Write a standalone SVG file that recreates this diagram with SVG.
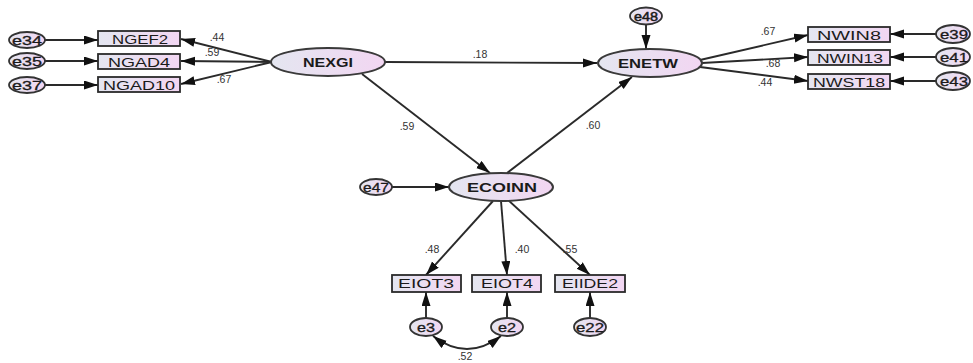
<svg xmlns="http://www.w3.org/2000/svg" width="973" height="363" viewBox="0 0 973 363">
<defs>
<linearGradient id="g" x1="0" y1="0" x2="1" y2="0">
<stop offset="0" stop-color="#e4e6f0"/>
<stop offset="1" stop-color="#f2d6f2"/>
</linearGradient>
<marker id="ah" markerUnits="userSpaceOnUse" markerWidth="16" markerHeight="12" refX="14" refY="4.5" orient="auto-start-reverse">
<path d="M0,0 L14,4.5 L0,9 z" fill="#111"/>
</marker>
</defs>
<style>
.box{fill:url(#g);stroke:#2a2a2a;stroke-width:1.8}
.lat{fill:url(#g);stroke:#3a3a3a;stroke-width:2}
.err{fill:url(#g);stroke:#333;stroke-width:1.8}
.t{font-family:"Liberation Sans",Arial,sans-serif;font-size:12.5px;fill:#1a1a1a;text-anchor:middle}
.tb{font-family:"Liberation Sans",Arial,sans-serif;font-size:12px;font-weight:bold;fill:#1a1a1a;text-anchor:middle}
.te{font-family:"Liberation Sans",Arial,sans-serif;font-size:12.5px;fill:#1a1a1a;text-anchor:middle;stroke:#1a1a1a;stroke-width:0.3}
.lb{font-family:"Liberation Sans",Arial,sans-serif;font-size:10.5px;fill:#333;text-anchor:middle}
.c{stroke:#2a2a2a;stroke-width:1.9;fill:none;marker-end:url(#ah)}
</style>
<rect width="973" height="363" fill="#fff"/>
<g id="connectors">
<line class="c" x1="272" y1="62" x2="181" y2="39"/>
<line class="c" x1="272" y1="62" x2="181" y2="61"/>
<line class="c" x1="272" y1="62" x2="181" y2="84"/>
<line class="c" x1="45" y1="40" x2="98" y2="40"/>
<line class="c" x1="45" y1="61" x2="98" y2="61"/>
<line class="c" x1="45" y1="85" x2="98" y2="85"/>
<line class="c" x1="385" y1="62" x2="597" y2="63"/>
<line class="c" x1="362" y1="74" x2="490" y2="173"/>
<line class="c" x1="507" y1="173" x2="632" y2="77"/>
<line class="c" x1="646" y1="25" x2="646" y2="49"/>
<line class="c" x1="700" y1="60" x2="808" y2="35"/>
<line class="c" x1="702" y1="63" x2="808" y2="57"/>
<line class="c" x1="700" y1="67" x2="808" y2="81"/>
<line class="c" x1="936" y1="34" x2="890" y2="34"/>
<line class="c" x1="936" y1="57" x2="890" y2="57"/>
<line class="c" x1="936" y1="81" x2="890" y2="81"/>
<line class="c" x1="392" y1="187" x2="449" y2="187"/>
<line class="c" x1="493" y1="201" x2="426" y2="275"/>
<line class="c" x1="501" y1="201" x2="507" y2="275"/>
<line class="c" x1="508" y1="200" x2="590" y2="275"/>
<line class="c" x1="426" y1="318" x2="426" y2="292"/>
<line class="c" x1="507" y1="318" x2="507" y2="292"/>
<line class="c" x1="590" y1="318" x2="590" y2="292"/>
<path class="c" d="M433 336 Q467 362 501 336" style="marker-start:url(#ah)"/>
<text class="lb" x="217" y="41">.44</text>
<text class="lb" x="212" y="56">.59</text>
<text class="lb" x="224" y="83">.67</text>
<text class="lb" x="480" y="58">.18</text>
<text class="lb" x="407" y="130">.59</text>
<text class="lb" x="593" y="129">.60</text>
<text class="lb" x="768" y="35">.67</text>
<text class="lb" x="773" y="67">.68</text>
<text class="lb" x="765" y="86">.44</text>
<text class="lb" x="432" y="253">.48</text>
<text class="lb" x="522" y="253">.40</text>
<text class="lb" x="570" y="253">.55</text>
<text class="lb" x="465" y="360">.52</text>
</g>
<g id="NGEF2"><rect class="box" x="98" y="31" width="82" height="15"/><text class="t" x="140" y="43.5" textLength="56" lengthAdjust="spacingAndGlyphs">NGEF2</text></g>
<g id="NGAD4"><rect class="box" x="98" y="54" width="82" height="15"/><text class="t" x="139" y="66.5" textLength="62" lengthAdjust="spacingAndGlyphs">NGAD4</text></g>
<g id="NGAD10"><rect class="box" x="98" y="77" width="82" height="15"/><text class="t" x="139" y="89.5" textLength="72" lengthAdjust="spacingAndGlyphs">NGAD10</text></g>
<g id="e34"><ellipse class="err" cx="27" cy="40" rx="18" ry="8"/><text class="te" x="27" y="44.5" textLength="30" lengthAdjust="spacingAndGlyphs">e34</text></g>
<g id="e35"><ellipse class="err" cx="27" cy="61" rx="18" ry="8"/><text class="te" x="27" y="65.5" textLength="30" lengthAdjust="spacingAndGlyphs">e35</text></g>
<g id="e37"><ellipse class="err" cx="27" cy="85" rx="18" ry="8"/><text class="te" x="27" y="89.5" textLength="30" lengthAdjust="spacingAndGlyphs">e37</text></g>
<g id="NEXGI"><ellipse class="lat" cx="328" cy="62" rx="57" ry="14"/><text class="tb" x="328" y="66.5" textLength="50" lengthAdjust="spacingAndGlyphs">NEXGI</text></g>
<g id="ENETW"><ellipse class="lat" cx="650" cy="63" rx="52" ry="14"/><text class="tb" x="648" y="67.5" textLength="60" lengthAdjust="spacingAndGlyphs">ENETW</text></g>
<g id="e48"><ellipse class="err" cx="646" cy="16" rx="16" ry="8.5"/><text class="te" x="646" y="20.5" textLength="24" lengthAdjust="spacingAndGlyphs" style="stroke-width:0.5">e48</text></g>
<g id="NWIN8"><rect class="box" x="808" y="27" width="82" height="15"/><text class="t" x="849" y="39.5" textLength="64" lengthAdjust="spacingAndGlyphs">NWIN8</text></g>
<g id="NWIN13"><rect class="box" x="808" y="50" width="82" height="15"/><text class="t" x="850" y="62.5" textLength="66" lengthAdjust="spacingAndGlyphs">NWIN13</text></g>
<g id="NWST18"><rect class="box" x="808" y="74" width="82" height="15"/><text class="t" x="849" y="86.5" textLength="72" lengthAdjust="spacingAndGlyphs">NWST18</text></g>
<g id="e39"><ellipse class="err" cx="953" cy="34" rx="17" ry="9"/><text class="te" x="954" y="38.5" textLength="28" lengthAdjust="spacingAndGlyphs">e39</text></g>
<g id="e41"><ellipse class="err" cx="953" cy="57" rx="17" ry="9"/><text class="te" x="954" y="61.5" textLength="28" lengthAdjust="spacingAndGlyphs">e41</text></g>
<g id="e43"><ellipse class="err" cx="953" cy="81" rx="17" ry="9"/><text class="te" x="954" y="85.5" textLength="28" lengthAdjust="spacingAndGlyphs">e43</text></g>
<g id="ECOINN"><ellipse class="lat" cx="501" cy="187" rx="52" ry="14"/><text class="tb" x="502" y="191.5" textLength="70" lengthAdjust="spacingAndGlyphs">ECOINN</text></g>
<g id="e47"><ellipse class="err" cx="376" cy="187" rx="16" ry="8"/><text class="te" x="376" y="191.5" textLength="26" lengthAdjust="spacingAndGlyphs">e47</text></g>
<g id="EIOT3"><rect class="box" x="392" y="275" width="69" height="17"/><text class="t" x="426" y="288" textLength="56" lengthAdjust="spacingAndGlyphs">EIOT3</text></g>
<g id="EIOT4"><rect class="box" x="472" y="275" width="69" height="17"/><text class="t" x="507" y="288" textLength="52" lengthAdjust="spacingAndGlyphs">EIOT4</text></g>
<g id="EIIDE2"><rect class="box" x="555" y="275" width="70" height="17"/><text class="t" x="590" y="288" textLength="56" lengthAdjust="spacingAndGlyphs">EIIDE2</text></g>
<g id="e3"><ellipse class="err" cx="426" cy="327" rx="16" ry="9"/><text class="te" x="426" y="331.5" textLength="18" lengthAdjust="spacingAndGlyphs">e3</text></g>
<g id="e2"><ellipse class="err" cx="507" cy="327" rx="16" ry="9"/><text class="te" x="507" y="331.5" textLength="18" lengthAdjust="spacingAndGlyphs">e2</text></g>
<g id="e22"><ellipse class="err" cx="590" cy="327" rx="16" ry="9"/><text class="te" x="590" y="331.5" textLength="28" lengthAdjust="spacingAndGlyphs">e22</text></g>
</svg>
